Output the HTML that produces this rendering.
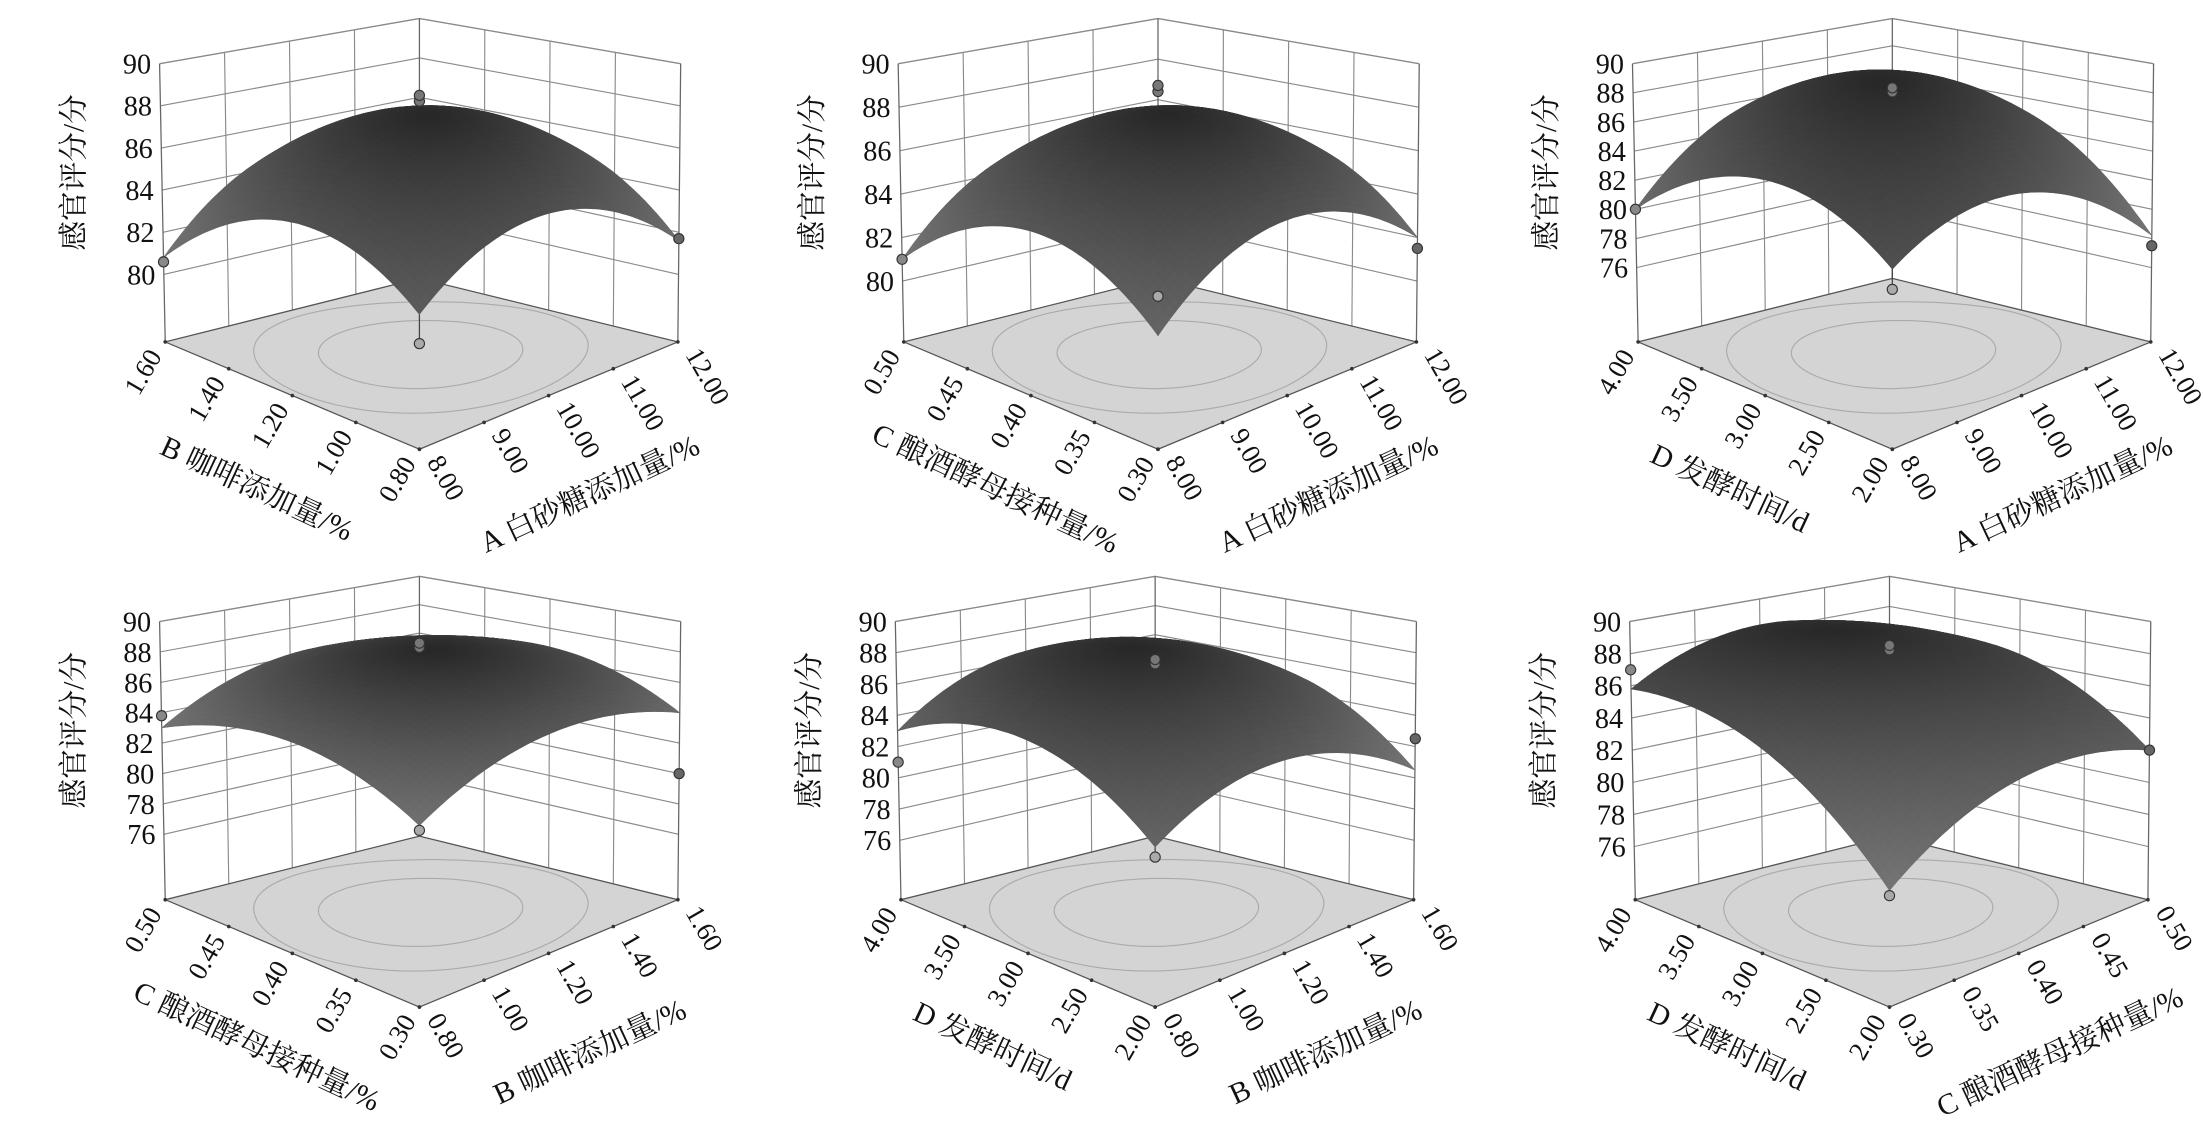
<!DOCTYPE html>
<html><head><meta charset="utf-8">
<style>
html,body{margin:0;padding:0;background:#fff;}
svg{display:block;}
.t{font-family:"Liberation Serif","Noto Serif CJK SC",serif;fill:#111;}
.c{font-family:"Liberation Serif","Noto Serif CJK SC","Noto Sans CJK SC",serif;fill:#111;}
</style></head>
<body>
<svg id="s" width="2203" height="1123" viewBox="0 0 1560 795" xmlns="http://www.w3.org/2000/svg"></svg>
<script>
const panels=[
{bx:297,oy:0,zf:76.8,ticks:[80,82,84,86,88,90],c:88,F:82.8,L:80.8,R:81.6,B:83,
 ll:["1.60","1.40","1.20","1.00","0.80"],rl:["8.00","9.00","10.00","11.00","12.00"],lt:"B 咖啡添加量/%",rt:"A 白砂糖添加量/%",
 dots:{l:80.6,r:81.7,f:81.5,c:[85.8,86.1]}},
{bx:820,oy:0,zf:77.2,ticks:[80,82,84,86,88,90],c:88,F:82.1,L:81,R:82,B:83,
 ll:["0.50","0.45","0.40","0.35","0.30"],rl:["8.00","9.00","10.00","11.00","12.00"],lt:"C 酿酒酵母接种量/%",rt:"A 白砂糖添加量/%",
 dots:{l:81,r:81.5,f:83.8,c:[86.4,86.7]}},
{bx:1340,oy:0,zf:70.9,ticks:[76,78,80,82,84,86,88,90],c:89.2,F:82.5,L:80,R:78.2,B:84,
 ll:["4.00","3.50","3.00","2.50","2.00"],rl:["8.00","9.00","10.00","11.00","12.00"],lt:"D 发酵时间/d",rt:"A 白砂糖添加量/%",
 dots:{l:80,r:77.5,f:81.2,c:[84.6,84.9]}},
{bx:297,oy:395,zf:71.7,ticks:[76,78,80,82,84,86,88,90],c:88.2,F:82.9,L:83,R:84,B:85,
 ll:["0.50","0.45","0.40","0.35","0.30"],rl:["0.80","1.00","1.20","1.40","1.60"],lt:"C 酿酒酵母接种量/%",rt:"B 咖啡添加量/%",
 dots:{l:83.8,r:80,f:82.6,c:[85,85.3]}},
{bx:818,oy:395,zf:72.2,ticks:[76,78,80,82,84,86,88,90],c:88.4,F:81.8,L:83,R:80.5,B:84,
 ll:["4.00","3.50","3.00","2.50","2.00"],rl:["0.80","1.00","1.20","1.40","1.60"],lt:"D 发酵时间/d",rt:"B 咖啡添加量/%",
 dots:{l:81,r:82.5,f:81.2,c:[84,84.3]}},
{bx:1338,oy:395,zf:72.7,ticks:[76,78,80,82,84,86,88,90],c:88.2,F:79.5,L:85.8,R:82,B:86,
 ll:["4.00","3.50","3.00","2.50","2.00"],rl:["0.30","0.35","0.40","0.45","0.50"],lt:"D 发酵时间/d",rt:"C 酿酒酵母接种量/%",
 dots:{l:87,r:82,f:79.2,c:[85.1,85.4]}}
];
let out="";
function f(n){return n.toFixed(1);}
for(const p of panels){
 const bx=p.bx,oy=p.oy,zf=p.zf;
 const C={
  F:{f:[bx,318+oy],t:[bx,108+oy]},
  R:{f:[bx+183,242+oy],t:[bx+185,45+oy]},
  B:{f:[bx,197+oy],t:[bx,13+oy]},
  L:{f:[bx-180,242+oy],t:[bx-184,45+oy]}
 };
 function cp(c,w){return [c.f[0]+(c.t[0]-c.f[0])*w,c.f[1]+(c.t[1]-c.f[1])*w];}
 function P(s,t,z){
  const w=(z-zf)/(90-zf);
  const F=cp(C.F,w),R=cp(C.R,w),B=cp(C.B,w),L=cp(C.L,w);
  return [F[0]*(1-s)*(1-t)+R[0]*s*(1-t)+B[0]*s*t+L[0]*(1-s)*t,
          F[1]*(1-s)*(1-t)+R[1]*s*(1-t)+B[1]*s*t+L[1]*(1-s)*t];
 }
 function line(a,b,col,w){out+=`<line x1="${f(a[0])}" y1="${f(a[1])}" x2="${f(b[0])}" y2="${f(b[1])}" stroke="${col}" stroke-width="${w}"/>`;}
 const gc="#8a8a8a";
 for(const z of p.ticks){ line(P(0,1,z),P(1,1,z),gc,0.8); line(P(1,1,z),P(1,0,z),gc,0.8);}
 for(const u of [0.25,0.5,0.75]){ line(P(u,1,zf),P(u,1,90),gc,0.8); line(P(1,u,zf),P(1,u,90),gc,0.8);}
 line(P(0,1,90),P(1,1,90),gc,0.9); line(P(1,1,90),P(1,0,90),gc,0.9);
 line(P(0,1,zf),P(0,1,90),"#666",0.9); line(P(1,0,zf),P(1,0,90),"#666",0.9); line(P(1,1,zf),P(1,1,90),"#666",0.9);
 const fl=[P(0,0,zf),P(1,0,zf),P(1,1,zf),P(0,1,zf)];
 out+=`<polygon points="${fl.map(q=>f(q[0])+","+f(q[1])).join(" ")}" fill="#d4d4d4" stroke="#555" stroke-width="0.9"/>`;
 for(const r of [0.55,0.9]){
  let pts=[];
  for(let i=0;i<=90;i++){const a=i/90*2*Math.PI;let x=r*Math.cos(a)*1.05,y=r*Math.sin(a);x=Math.max(-1,Math.min(1,x));y=Math.max(-1,Math.min(1,y));const q=P((x+1)/2,(y+1)/2,zf);pts.push(f(q[0])+","+f(q[1]));}
  out+=`<polyline points="${pts.join(" ")}" fill="none" stroke="#aaa" stroke-width="0.8"/>`;
 }
 for(let i=0;i<5;i++){const a=P(0,1-i/4,zf),b=P(i/4,0,zf);out+=`<circle cx="${f(a[0])}" cy="${f(a[1])}" r="1.3" fill="#333"/><circle cx="${f(b[0])}" cy="${f(b[1])}" r="1.3" fill="#333"/>`;}
 const mean=(p.F+p.R+p.B+p.L)/4,a=(p.c-mean)/2;
 const pp=(p.R+p.B-p.F-p.L)/4,qq=(p.L+p.B-p.F-p.R)/4,rr=(p.B+p.F-p.R-p.L)/4;
 const Z=(x,y)=>p.c+pp*x+qq*y-a*x*x-a*y*y+rr*x*y;
 const fd=P(0,0,p.dots.f);
 line(fd,P(0,0,p.F),"#444",0.9);
 if(p.dots.f<p.F) {}
 const N=46;let quads=[];let gmax=0;
 for(let i=0;i<N;i++)for(let j=0;j<N;j++){
  const s0=i/N,s1=(i+1)/N,t0=j/N,t1=(j+1)/N;
  const xm=(s0+s1)-1,ym=(t0+t1)-1;
  const gx=pp-2*a*xm+rr*ym,gy=qq-2*a*ym+rr*xm;const g=Math.hypot(gx,gy);gmax=Math.max(gmax,g);
  quads.push({d:s0+t0,g,pts:[P(s0,t0,Z(2*s0-1,2*t0-1)),P(s1,t0,Z(2*s1-1,2*t0-1)),P(s1,t1,Z(2*s1-1,2*t1-1)),P(s0,t1,Z(2*s0-1,2*t1-1))]});
 }
 quads.sort((u,v)=>v.d-u.d);
 for(const q of quads){
  const v=Math.round(40+75*Math.pow(q.g/gmax,1.3));const col=`rgb(${v},${v},${v})`;
  out+=`<polygon points="${q.pts.map(k=>f(k[0])+","+f(k[1])).join(" ")}" fill="${col}" stroke="${col}" stroke-width="0.4"/>`;
 }
 const dot=(q,fill)=>{out+=`<circle cx="${f(q[0])}" cy="${f(q[1])}" r="3.6" fill="${fill}" stroke="#333" stroke-width="0.8"/>`;};
 for(const z of p.dots.c) dot(P(1,1,z),"#777");
 dot(P(0,1,p.dots.l),"#888"); dot(P(1,0,p.dots.r),"#666"); dot(fd,"#aaa");
 for(const z of p.ticks){const q=P(0,1,z);out+=`<text class="t" x="${f(q[0]-6)}" y="${f(q[1]+7)}" font-size="20" text-anchor="end">${z}</text>`;}
 out+=`<text class="c" x="0" y="0" font-size="21" text-anchor="middle" transform="translate(${bx-238},${oy+122}) rotate(-90)">感官评分/分</text>`;
 for(let i=0;i<5;i++){
  const a1=P(0,1-i/4,zf);
  out+=`<text class="t" font-size="19" text-anchor="end" transform="translate(${f(a1[0]-2)},${f(a1[1]+10)}) rotate(-60)">${p.ll[i]}</text>`;
  const b1=P(i/4,0,zf);
  out+=`<text class="t" font-size="19" text-anchor="start" transform="translate(${f(b1[0]+5)},${f(b1[1]+9)}) rotate(60)">${p.rl[i]}</text>`;
 }
 const mL=P(0,0.5,zf),mR=P(0.5,0,zf);
 out+=`<text class="c" font-size="21" text-anchor="middle" transform="translate(${f(mL[0]-28)},${f(mL[1]+72)}) rotate(25)">${p.lt}</text>`;
 out+=`<text class="c" font-size="21" text-anchor="middle" transform="translate(${f(mR[0]+32)},${f(mR[1]+76)}) rotate(-25)">${p.rt}</text>`;
}
document.getElementById("s").innerHTML=out;
</script>
</body></html>
